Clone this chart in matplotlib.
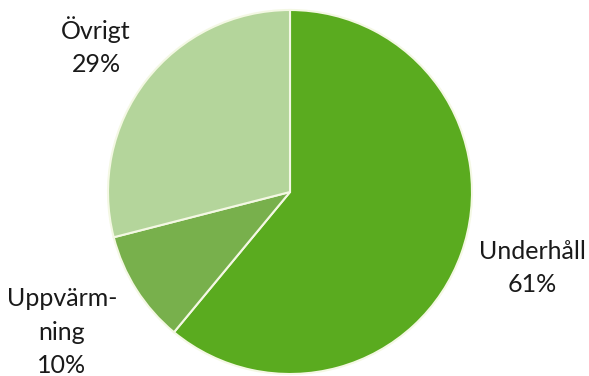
import matplotlib
matplotlib.use("Agg")
import matplotlib.pyplot as plt

categories = ["Underhåll", "Uppvärmning", "Övrigt"]
values = [61, 10, 29]
labels = ["Underhåll\n61%", "Uppvärm-\nning\n10%", "Övrigt\n29%"]
colors = ["#5aab1f", "#78b04c", "#b4d59b"]
label_pos = [(532, 108), (62, 44), (96, 330)]

fig = plt.figure(figsize=(5.89, 3.76), dpi=100)
ax = fig.add_axes([0, 0, 1, 1])
ax.pie(values, colors=colors, startangle=90, counterclock=False,
       center=(290, 184), radius=182, frame=True,
       wedgeprops=dict(edgecolor="#f4f8e4", linewidth=1.5))
ax.set_xlim(0, 589)
ax.set_ylim(0, 376)
ax.set_aspect("auto")
ax.axis("off")

for lab, (x, y) in zip(labels, label_pos):
    ax.text(x, y, lab, ha="center", va="center", fontsize=18,
            family=["Lato", "DejaVu Sans"], color="#1a1a1a", linespacing=1.55)

fig.savefig("out.png", dpi=100)
